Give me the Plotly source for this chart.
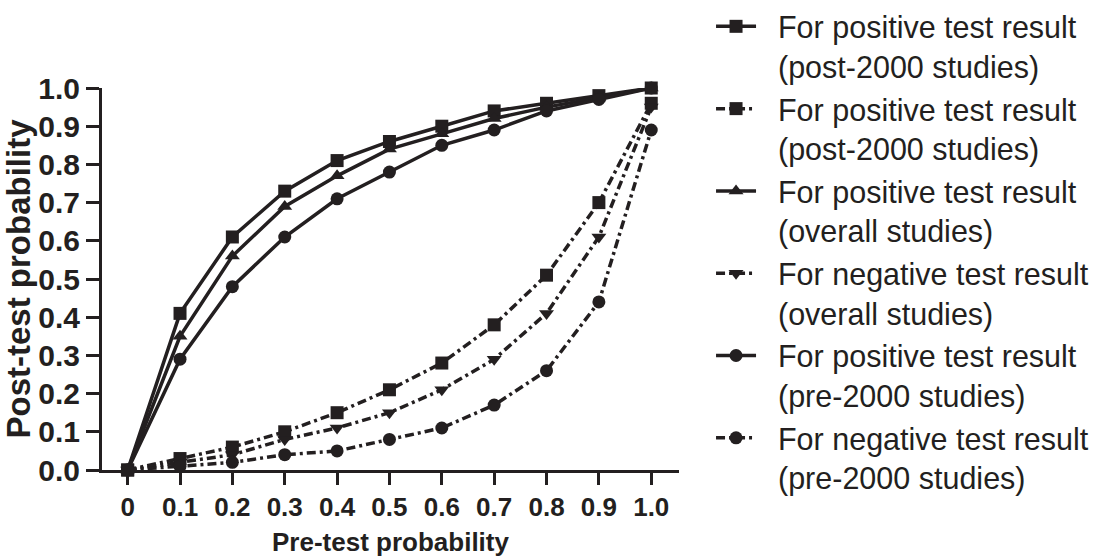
import plotly.graph_objects as go

pre_test = [0, 0.1, 0.2, 0.3, 0.4, 0.5, 0.6, 0.7, 0.8, 0.9, 1.0]
x_tick_labels = ["0", "0.1", "0.2", "0.3", "0.4", "0.5", "0.6", "0.7", "0.8", "0.9", "1.0"]
y_tick_vals = [0, 0.1, 0.2, 0.3, 0.4, 0.5, 0.6, 0.7, 0.8, 0.9, 1.0]
y_tick_labels = ["0.0", "0.1", "0.2", "0.3", "0.4", "0.5", "0.6", "0.7", "0.8", "0.9", "1.0"]

pos_post2000 = [0, 0.41, 0.61, 0.73, 0.81, 0.86, 0.90, 0.94, 0.96, 0.98, 1.0]
neg_post2000 = [0, 0.03, 0.06, 0.10, 0.15, 0.21, 0.28, 0.38, 0.51, 0.70, 0.96]
pos_overall = [0, 0.35, 0.56, 0.69, 0.77, 0.84, 0.88, 0.92, 0.95, 0.975, 1.0]
neg_overall = [0, 0.02, 0.04, 0.08, 0.11, 0.15, 0.21, 0.29, 0.41, 0.61, 0.95]
pos_pre2000 = [0, 0.29, 0.48, 0.61, 0.71, 0.78, 0.85, 0.89, 0.94, 0.97, 1.0]
neg_pre2000 = [0, 0.01, 0.02, 0.04, 0.05, 0.08, 0.11, 0.17, 0.26, 0.44, 0.89]

legend_lines = [
    ("For positive test result", "(post-2000 studies)"),
    ("For positive test result", "(post-2000 studies)"),
    ("For positive test result", "(overall studies)"),
    ("For negative test result", "(overall studies)"),
    ("For positive test result", "(pre-2000 studies)"),
    ("For negative test result", "(pre-2000 studies)"),
]
series = [pos_post2000, neg_post2000, pos_overall, neg_overall, pos_pre2000, neg_pre2000]
symbols = ["square", "square", "triangle-up", "triangle-down", "circle", "circle"]
dashes = ["solid", "9px,4px,3px,4px", "solid", "9px,4px,3px,4px", "solid", "9px,4px,3px,4px"]

INK = "#231f20"
FONT = "Liberation Sans, Arial, sans-serif"
PAD = "&nbsp;&nbsp;"

fig = go.Figure()
for i, ((l1, l2), ys, sym, dsh) in enumerate(zip(legend_lines, series, symbols, dashes)):
    fig.add_trace(go.Scatter(
        x=pre_test, y=ys, name=f"{PAD}{l1}<br>{PAD}{l2}", mode="lines+markers",
        line=dict(color=INK, width=3.5, dash=dsh),
        marker=dict(symbol=sym, size=13, color=INK),
        cliponaxis=False, legendgroup=f"g{i}",
    ))

fig.update_layout(
    width=1100, height=557,
    margin=dict(l=102, r=421, t=88, b=87, autoexpand=False),
    paper_bgcolor="white", plot_bgcolor="white",
    font=dict(family=FONT, color=INK),
    showlegend=True,
    legend=dict(
        xref="container", yref="container",
        x=0.6464, y=1.0, xanchor="left", yanchor="top",
        font=dict(family=FONT, size=30.5, color=INK),
        tracegroupgap=0, itemwidth=40, maxheight=557, valign="top",
        bgcolor="rgba(0,0,0,0)",
    ),
    xaxis=dict(
        range=[-0.049, 1.053], tickvals=pre_test, ticktext=x_tick_labels,
        showgrid=False, zeroline=False, showline=True, linecolor=INK, linewidth=3,
        ticks="outside", ticklen=12, tickwidth=3, tickcolor=INK, automargin=False,
        tickfont=dict(family=FONT, size=26, color=INK, weight="bold"),
        title=dict(text="<b>Pre-test probability</b>", font=dict(family=FONT, size=26, color=INK), standoff=22),
    ),
    yaxis=dict(
        range=[0, 1.0], tickvals=y_tick_vals, ticktext=y_tick_labels,
        showgrid=False, zeroline=False, showline=True, linecolor=INK, linewidth=3,
        ticks="outside", ticklen=13, tickwidth=3, tickcolor=INK, automargin=False,
        tickfont=dict(family=FONT, size=30, color=INK, weight="bold"),
        title=dict(text="<b>Post-test probability</b>", font=dict(family=FONT, size=33, color=INK), standoff=6),
    ),
)

fig.write_html("out.html")
